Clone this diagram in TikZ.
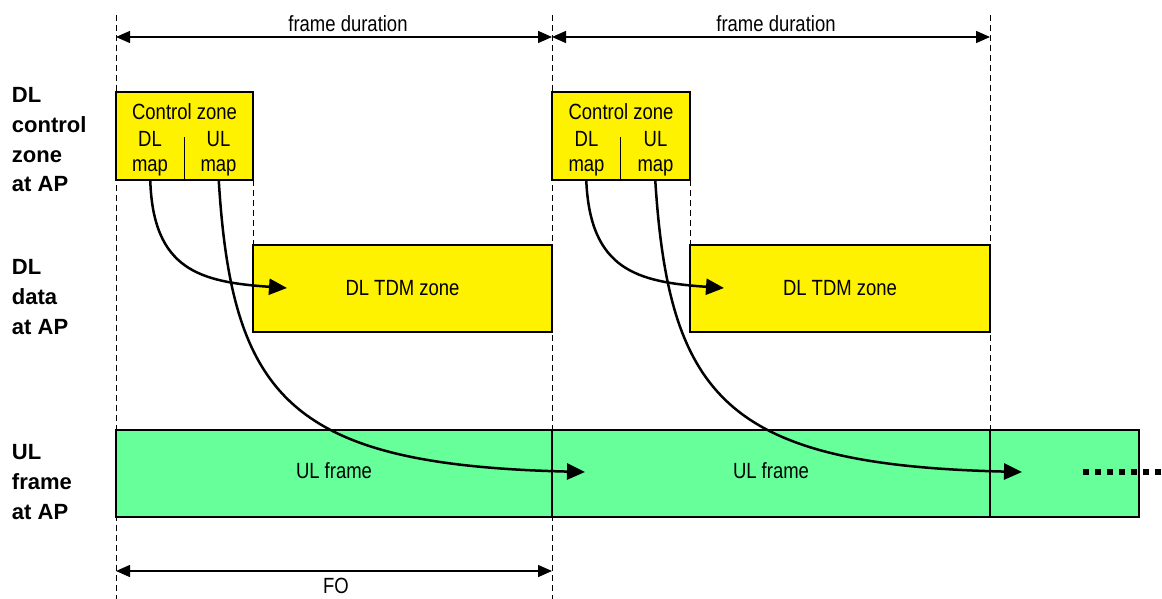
\documentclass[tikz,border=0pt]{standalone}
\usepackage{fontspec}
\setmainfont{Liberation Sans}[FakeStretch=0.84]
\newfontfamily\lblfont{Liberation Sans}
\usetikzlibrary{arrows.meta}
\definecolor{ulgreen}{RGB}{102,255,153}
\begin{document}
\begin{tikzpicture}[x=1pt,y=-1pt,
  every node/.style={font=\fontsize{22}{25}\selectfont, inner sep=0pt, outer sep=0pt},
  zonebox/.style={draw, line width=1.4pt, anchor=north west, inner sep=0pt},
  ctlbox/.style={zonebox, fill=yellow},
  tdmbox/.style={zonebox, fill=yellow},
  ulbox/.style={zonebox, fill=ulgreen, text depth=6pt},
  cellbox/.style={anchor=north west, minimum height=43pt, minimum width=68.5pt},
  guide/.style={line width=1pt, dash pattern=on 6pt off 4pt},
  dimarrow/.style={line width=1.4pt, {Triangle[length=14pt,width=12pt]}-{Triangle[length=14pt,width=12pt]}},
  flow/.style={line width=2.5pt, -{Triangle[length=18pt,width=16pt]}},
  rowlabel/.style={font=\lblfont\bfseries\fontsize{22}{29.8}\selectfont, align=left, anchor=north west},
  celltext/.style={align=center, font=\fontsize{22}{25}\selectfont},
  moredots/.style={line width=6pt, dash pattern=on 6pt off 6pt}
]
\useasboundingbox (0,0) rectangle (1162,599);

% guide lines
\draw[guide] (116,15) -- (116,599);
\draw[guide] (552,15) -- (552,599);
\draw[guide] (990,15) -- (990,430);
\draw[guide] (253,180) -- (253,245);
\draw[guide] (690,180) -- (690,245);

% duration arrows
\coordinate (d0) at (116,37);
\coordinate (d1) at (552,37);
\coordinate (d2) at (990,37);
\draw[dimarrow] (d0) -- (d1);
\draw[dimarrow] (d1) -- (d2);
\node[anchor=base] (fd1) at (348,32) {frame duration};
\node[anchor=base] (fd2) at (776,32) {frame duration};

\coordinate (fo0) at (116,571);
\coordinate (fo1) at (552,571);
\draw[dimarrow] (fo0) -- (fo1);
\node[anchor=base] (fo) at (336,593) {FO};

% row labels
\node[rowlabel] (lab1) at (12,87.3) {DL\\control\\zone\\at AP};
\node[rowlabel] (lab2) at (12,259.3) {DL\\data\\at AP};
\node[rowlabel] (lab3) at (12,444.3) {UL\\frame\\at AP};

% control zones
\node[ctlbox, minimum width=137pt, minimum height=88pt] (cz1) at (116,92) {};
\node[ctlbox, minimum width=138pt, minimum height=88pt] (cz2) at (552,92) {};
\node[anchor=base] (czt1) at (184.5,120) {Control zone};
\node[anchor=base] (czt2) at (621,120) {Control zone};
\node[cellbox] (dl1) at (116,137) {};
\node[cellbox] (ulm1) at (184.5,137) {};
\node[cellbox] (dl2) at (552,137) {};
\node[cellbox] (ulm2) at (621,137) {};
\draw[line width=1.4pt] (dl1.north east) -- (dl1.south east);
\draw[line width=1.4pt] (dl2.north east) -- (dl2.south east);
\node[celltext] (dlt1) at (150,154) {DL\\map};
\node[celltext] (ult1) at (218.5,154) {UL\\map};
\node[celltext] (dlt2) at (586.5,154) {DL\\map};
\node[celltext] (ult2) at (655.5,154) {UL\\map};

% DL TDM zones
\node[tdmbox, minimum width=299pt, minimum height=87pt] (tdm1) at (253,245) {DL TDM zone};
\node[tdmbox, minimum width=300pt, minimum height=87pt] (tdm2) at (690,245) {DL TDM zone};

% UL frames
\node[ulbox, minimum width=436pt, minimum height=87pt] (ul1) at (116,430) {UL frame};
\node[ulbox, minimum width=438pt, minimum height=87pt] (ul2) at (552,430) {UL frame};
\node[ulbox, minimum width=149pt, minimum height=87pt] (ul3) at (990,430) {};

% flows
\coordinate (e1) at (287,288);
\coordinate (e2) at (585,472);
\coordinate (e3) at (724,288);
\coordinate (e4) at (1022,472);
\draw[flow] (dl1.south) .. controls (153,270) and (200,282) .. (e1);
\draw[flow] (ulm1.south) .. controls (232,400) and (292,465) .. (e2);
\draw[flow] (dl2.south) .. controls (590,270) and (637,282) .. (e3);
\draw[flow] (ulm2.south) .. controls (669,400) and (729,465) .. (e4);

% continuation dots
\coordinate (m0) at (1083,472);
\coordinate (m1) at (1162,472);
\draw[moredots] (m0) -- (m1);
\end{tikzpicture}
\end{document}
